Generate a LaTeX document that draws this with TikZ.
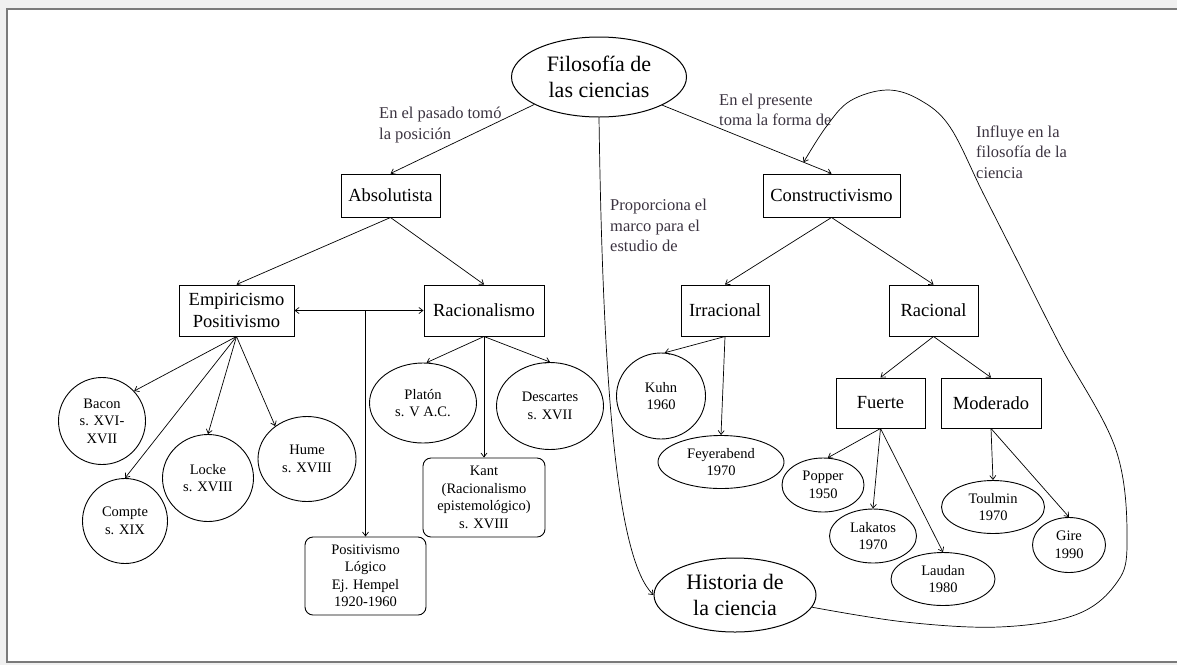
\documentclass[tikz,border=0pt]{standalone}
\usepackage{fontspec}
\setmainfont{Liberation Serif}
\usetikzlibrary{shapes.geometric,arrows.meta}
\definecolor{labc}{HTML}{3B3340}
\definecolor{framec}{HTML}{7A7A7A}
\tikzset{
  box/.style={draw, line width=1pt, inner sep=0pt, align=center, font=\fontsize{18.5}{22}\selectfont},
  ell/.style={draw, ellipse, line width=0.9pt, inner sep=0pt, align=center, font=\fontsize{14.5}{17.5}\selectfont},
  bigell/.style={draw, ellipse, line width=1pt, inner sep=0pt, align=center, font=\fontsize{22}{26}\selectfont},
  rbox/.style={draw, rounded corners=8pt, line width=0.9pt, inner sep=0pt, align=center, font=\fontsize{14.5}{17.5}\selectfont},
  lab/.style={inner sep=0pt, align=left, anchor=west, text=labc, font=\fontsize{16.5}{20.5}\selectfont},
  arr/.style={-{Straight Barb[length=4pt,width=6pt]}, line width=0.7pt},
  darr/.style={{Straight Barb[length=4pt,width=6pt]}-{Straight Barb[length=4pt,width=6pt]}, line width=0.7pt},
}
\begin{document}
\begin{tikzpicture}[x=1pt,y=-1pt]
\useasboundingbox (0,0) rectangle (1177,665);
% page background and frame
\fill[black!6] (0,0) rectangle (1177,665);
\fill[white] (7,9) rectangle (1177,662);
\draw[framec, line width=2.2pt] (1177,9) -- (7,9) -- (7,662) -- (1177,662);

% main nodes
\node[bigell, minimum width=175pt, minimum height=80pt] (fil) at (599,77) {Filosofía de\\las ciencias};
\node[box, minimum width=99pt, minimum height=43pt] (abs) at (390.5,195.5) {Absolutista};
\node[box, minimum width=137pt, minimum height=43pt] (con) at (831.5,195.5) {Constructivismo};
\node[box, minimum width=115pt, minimum height=51pt] (emp) at (236.5,310.5) {Empiricismo\\Positivismo};
\node[box, minimum width=120pt, minimum height=51pt] (rac) at (484,310.5) {Racionalismo};
\node[box, minimum width=88pt, minimum height=51pt] (irr) at (725,310.5) {Irracional};
\node[box, minimum width=89pt, minimum height=51pt] (racl) at (933.5,310.5) {Racional};
\node[box, minimum width=89pt, minimum height=50pt] (fue) at (880.5,403) {Fuerte};
\node[box, minimum width=100pt, minimum height=50pt] (mod) at (991,403) {Moderado};

% leaves
\node[ell, minimum width=87pt, minimum height=87pt] (bacon) at (102,421) {Bacon\\s. XVI-\\XVII};
\node[ell, minimum width=85pt, minimum height=85pt] (compte) at (125,521) {Compte\\s. XIX};
\node[ell, minimum width=91pt, minimum height=87pt] (locke) at (208,478) {Locke\\s. XVIII};
\node[ell, minimum width=98pt, minimum height=85pt] (hume) at (307,459) {Hume\\s. XVIII};
\node[ell, minimum width=107pt, minimum height=80pt] (platon) at (423,403) {Platón\\s. V A.C.};
\node[ell, minimum width=107pt, minimum height=87pt] (desc) at (550,406) {Descartes\\s. XVII};
\node[rbox, minimum width=122pt, minimum height=79pt] (kant) at (484,497.5) {Kant\\(Racionalismo\\epistemológico)\\s. XVIII};
\node[rbox, minimum width=121pt, minimum height=78pt] (poslog) at (365.5,576) {Positivismo\\Lógico\\Ej. Hempel\\1920-1960};
\node[ell, minimum width=89pt, minimum height=86pt] (kuhn) at (661,396) {Kuhn\\1960};
\node[ell, minimum width=126pt, minimum height=53pt] (feyer) at (721,462) {Feyerabend\\1970};
\node[ell, minimum width=82pt, minimum height=54pt] (popper) at (823,485) {Popper\\1950};
\node[ell, minimum width=87pt, minimum height=54pt] (lakatos) at (873,536) {Lakatos\\1970};
\node[ell, minimum width=104pt, minimum height=53pt] (laudan) at (943,579) {Laudan\\1980};
\node[ell, minimum width=103pt, minimum height=53pt] (toulmin) at (993,507) {Toulmin\\1970};
\node[ell, minimum width=73pt, minimum height=55pt] (gire) at (1069,545) {Gire\\1990};
\node[bigell, minimum width=162pt, minimum height=74pt] (hist) at (735,595) {Historia de\\la ciencia};

% labels
\node[lab] (l1) at (379,125) {En el pasado tomó\\la posición};
\node[lab] (l2) at (719,110) {En el presente\\toma la forma de};
\node[lab] (l3) at (976,152) {Influye en la\\filosofía de la\\ciencia};
\node[lab] (l4) at (610,225.5) {Proporciona el\\marco para el\\estudio de};

% connectors
\draw[arr] (fil.203.6) -- (abs.north);
\draw[arr] (fil.336) -- coordinate[pos=0.835] (onlink) (con.north);
\draw[arr] (abs.south) -- (emp.north);
\draw[arr] (abs.south) -- (rac.north);
\draw[darr] (emp.east) -- (rac.west);
\draw[arr] (poslog.north |- emp.east) -- (poslog.north);
\draw[arr] (emp.south) -- (bacon.43);
\draw[arr] (emp.south) -- (compte.north);
\draw[arr] (emp.south) -- (locke.north);
\draw[arr] (emp.south) -- (hume.134);
\draw[arr] (rac.south) -- (platon.85);
\draw[arr] (rac.south) -- (desc.north);
\draw[arr] (rac.south) -- (kant.north);
\draw[arr] (con.south) -- (irr.north);
\draw[arr] (con.south) -- (racl.north);
\draw[arr] (irr.south) -- (kuhn.85);
\draw[arr] (irr.south) -- (feyer.north);
\draw[arr] (racl.south) -- (fue.north);
\draw[arr] (racl.south) -- (mod.north);
\draw[arr] (fue.south) -- (popper.80);
\draw[arr] (fue.south) -- (lakatos.north);
\draw[arr] (fue.south) -- (laudan.north);
\draw[arr] (mod.south) -- (toulmin.north);
\draw[arr] (mod.south) -- (gire.north);
\draw[arr] (fil.south) .. controls (603,400) and (618,560) .. (hist.west);
\draw[arr] plot[smooth, tension=0.6] coordinates {(hist.351) (905,622) (999,627) (1075,615) (1115,585) (1127,545) (1116,450) (1060,345) (1017,260) (983,193) (950,127) (920,100) (887,90) (850,101) (826,127) (onlink)};
\end{tikzpicture}
\end{document}
